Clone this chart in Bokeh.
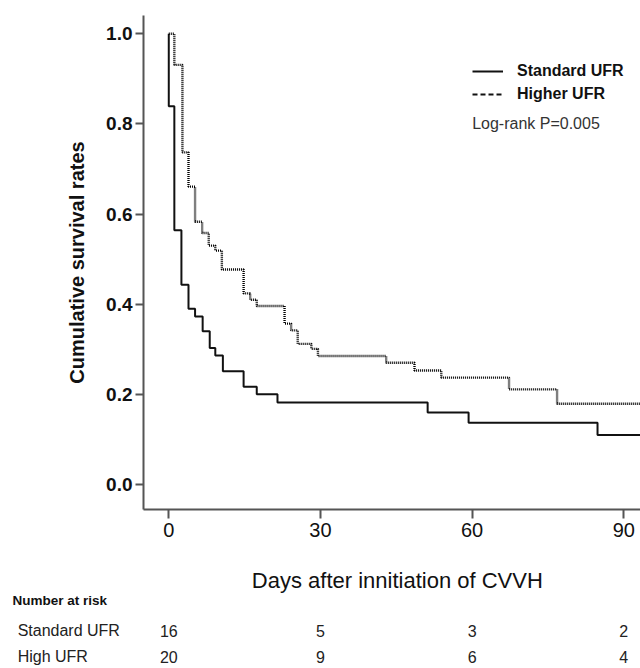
from bokeh.plotting import figure
from bokeh.layouts import column
from bokeh.models import (FixedTicker, Legend, LegendItem, Label,
                          ColumnDataSource, Range1d, CustomJSTickFormatter)
from bokeh.core.properties import value
from bokeh.embed import file_html
from bokeh.resources import INLINE

# ---- data ----
std_days = [0, 0, 1.1, 2.5, 3.9, 5.2, 6.7, 8.1, 9.2, 10.7, 14.8, 17.4, 21.5, 51.2, 59.3, 84.8, 94]
std_surv = [1.0, 0.839, 0.564, 0.443, 0.390, 0.373, 0.340, 0.303, 0.286, 0.251, 0.217, 0.200,
            0.182, 0.160, 0.137, 0.110, 0.110]

hi_days = [0, 1.1, 2.7, 3.9, 5.2, 6.6, 7.9, 9.2, 10.5, 14.8, 16.1, 17.4, 22.9, 24.2, 25.5, 28.2,
           29.5, 43.0, 48.6, 53.9, 67.3, 76.8, 94]
hi_surv = [1.0, 0.931, 0.737, 0.661, 0.583, 0.558, 0.530, 0.519, 0.477, 0.424, 0.410, 0.396,
           0.357, 0.342, 0.312, 0.301, 0.285, 0.270, 0.253, 0.237, 0.211, 0.179, 0.179]

x_ticks = [0, 30, 60, 90]
y_ticks = [0.0, 0.2, 0.4, 0.6, 0.8, 1.0]

risk_days = [0, 30, 60, 90]
risk_standard = [16, 5, 3, 2]
risk_high = [20, 9, 6, 4]
risk_row_names = ["Standard UFR", "High UFR"]

FONT = "Liberation Sans"
AXIS_COLOR = "#555555"

# ---------------- main survival plot ----------------
p = figure(width=640, height=548, output_backend="svg", toolbar_location=None,
           x_range=Range1d(-5.0, 93.3), y_range=Range1d(-0.0555, 1.0406),
           min_border_left=143, min_border_right=0, min_border_top=15, min_border_bottom=39)
p.frame_align = False
p.outline_line_color = None
p.grid.visible = False
p.background_fill_color = "white"
p.border_fill_color = "white"

p.step(std_days, std_surv, mode="after", line_color="#111111", line_width=2)
p.step(hi_days, hi_surv, mode="after", line_color="#000000", line_width=2.4, line_dash="1 1")

p.xaxis.ticker = FixedTicker(ticks=x_ticks)
p.yaxis.ticker = FixedTicker(ticks=y_ticks)
p.yaxis.formatter = CustomJSTickFormatter(code="return tick.toFixed(1);")
for ax in (p.xaxis[0], p.yaxis[0]):
    ax.axis_line_color = AXIS_COLOR
    ax.axis_line_width = 2
    ax.major_tick_line_color = AXIS_COLOR
    ax.major_tick_line_width = 2
    ax.major_tick_in = 0
    ax.minor_tick_line_color = None
    ax.major_label_text_font = FONT
    ax.major_label_text_color = "#111111"
    ax.axis_label_text_font = FONT
    ax.axis_label_text_color = "#111111"

p.yaxis.major_tick_out = 8
p.yaxis.major_label_standoff = 3
p.yaxis.major_label_text_font_size = "19px"
p.yaxis.major_label_text_font_style = "bold"
p.yaxis.axis_label = "Cumulative survival rates"
p.yaxis.axis_label_text_font_size = "20px"
p.yaxis.axis_label_text_font_style = "bold"
p.yaxis.axis_label_standoff = 15

p.xaxis.major_tick_out = 9
p.xaxis.major_label_standoff = 4
p.xaxis.major_label_text_font_size = "20px"

# legend (samples drawn with legend-only renderers that draw nothing in the plot)
nan = float("nan")
leg_std = p.line([nan], [nan], line_color="#111111", line_width=2)
leg_hi = p.line([nan], [nan], line_color="#111111", line_width=2, line_dash="5 3")
legend = Legend(items=[LegendItem(label="Standard UFR", renderers=[leg_std]),
                       LegendItem(label="Higher UFR", renderers=[leg_hi])],
                location=(329, 405), padding=0, margin=0, spacing=3,
                glyph_width=31, glyph_height=20, label_height=20, label_standoff=14,
                border_line_color=None, background_fill_alpha=0,
                label_text_font=FONT, label_text_font_size="16px",
                label_text_font_style="bold", label_text_color="#111111")
p.add_layout(legend)

p.add_layout(Label(x=60.0, y=0.801, text="Log-rank P=0.005", text_font=FONT,
                   text_font_size="16px", text_color="#333333",
                   text_align="left", text_baseline="middle"))

# ---------------- x-axis title + number-at-risk table ----------------
# same day scale as the plot above (day 0 at the same horizontal position)
t = figure(width=640, height=120, output_backend="svg", toolbar_location=None,
           x_range=Range1d(-33.29, 93.30), y_range=Range1d(120, 0),
           x_axis_location=None, y_axis_location=None,
           min_border_left=0, min_border_right=0, min_border_top=0, min_border_bottom=0)
t.frame_align = False
t.outline_line_color = None
t.grid.visible = False

# rows of the table (layout positions, px from the top of this panel)
xlabel_row, header_row, row_y = 32, 52, [82, 108]

t.text(x=[45.2], y=[xlabel_row], text=["Days after innitiation of CVVH"],
       text_font=value(FONT), text_font_size="22px", text_color="#111111",
       text_align="center", text_baseline="middle")
t.text(x=[-30.9], y=[header_row], text=["Number at risk"],
       text_font=value(FONT), text_font_size="13.5px", text_font_style="bold",
       text_color="#111111", text_align="left", text_baseline="middle")
t.text(x=[-29.9] * len(risk_row_names), y=row_y, text=risk_row_names,
       text_font=value(FONT), text_font_size="16px", text_color="#222222",
       text_align="left", text_baseline="middle")
for vals, yy in zip([risk_standard, risk_high], row_y):
    src = ColumnDataSource(dict(x=risk_days, y=[yy] * len(vals), t=[str(v) for v in vals]))
    t.text(x="x", y="y", text="t", source=src,
           text_font=value(FONT), text_font_size="16px", text_color="#222222",
           text_align="center", text_baseline="middle")

layout = column(p, t, spacing=0)
open("out.html", "w").write(file_html(layout, INLINE))
